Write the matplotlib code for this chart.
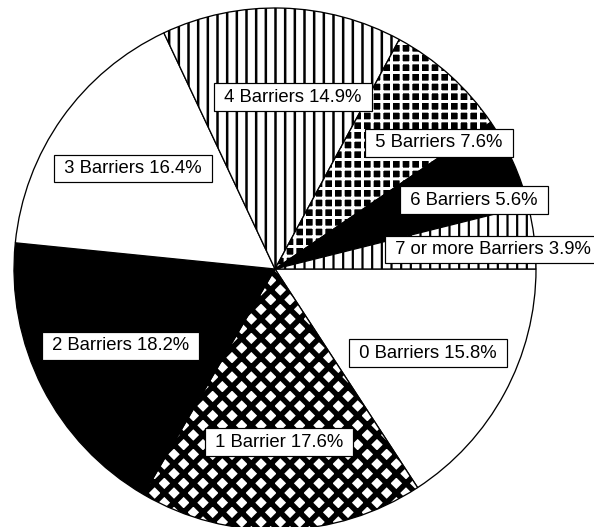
import matplotlib
matplotlib.use("Agg")
import matplotlib.pyplot as plt
import matplotlib.patches as mpatches

plt.rcParams['font.family'] = ['Liberation Sans', 'DejaVu Sans']

labels = ["0 Barriers", "1 Barrier", "2 Barriers", "3 Barriers",
          "4 Barriers", "5 Barriers", "6 Barriers", "7 or more Barriers"]
values = [15.8, 17.6, 18.2, 16.4, 14.9, 7.6, 5.6, 3.9]
label_pos = [(0.586, -0.322), (0.015, -0.663), (-0.592, -0.295), (-0.544, 0.385),
             (0.069, 0.659), (0.628, 0.483), (0.761, 0.264), (0.835, 0.075)]

DPI = 58
PX = 72 / DPI  # points per pixel

# style per slice: (face, hatch, hatch colour, hatch linewidth in px)
styles = [
    ("white", None, "black", 1.0),
    ("white", "x", "black", 5.5),
    ("black", None, "black", 1.0),
    ("white", None, "black", 1.0),
    ("white", "|", "black", 2.5),
    ("black", "+", "white", 3.0),
    ("black", None, "black", 1.0),
    ("white", "|", "black", 2.2),
]

fig = plt.figure(figsize=(594 / DPI, 527 / DPI), dpi=DPI)
cx, cy, R = 275, 269, 261
ax = fig.add_axes([(cx - R) / 594, (527 - cy - R) / 527, 2 * R / 594, 2 * R / 527])
ax.axis('off')

wedges, _ = ax.pie(values, startangle=0, counterclock=False, radius=1,
                   colors=[s[0] for s in styles],
                   wedgeprops=dict(edgecolor='black', linewidth=1.3 * PX))

for w, (face, hatch, hcol, hlw) in zip(wedges, styles):
    w.set_facecolor(face)
    if hatch:
        w.set_hatch(hatch)
        w.set_edgecolor(hcol)
        try:
            w.set_hatch_linewidth(hlw * PX)
        except AttributeError:
            w._hatch_linewidth = hlw * PX
        if hcol != "black":
            w.set_linewidth(0)
            outline = mpatches.Wedge(w.center, w.r, w.theta1, w.theta2,
                                     fill=False, edgecolor='black',
                                     linewidth=1.3 * PX,
                                     zorder=w.get_zorder() + 0.1)
            ax.add_patch(outline)

for lab, val, (x, y) in zip(labels, values, label_pos):
    ax.text(x, y, f" {lab} {val:.1f}% ", ha='center', va='center',
            fontsize=18.5 * PX, color='black', zorder=5, clip_on=False,
            bbox=dict(boxstyle='square,pad=0.28', facecolor='white',
                      edgecolor='black', linewidth=1.2 * PX))

ax.set_aspect('equal', adjustable='datalim')
ax.set_xlim(-1, 1)
ax.set_ylim(-1, 1)
fig.savefig("out.png", dpi=DPI)
